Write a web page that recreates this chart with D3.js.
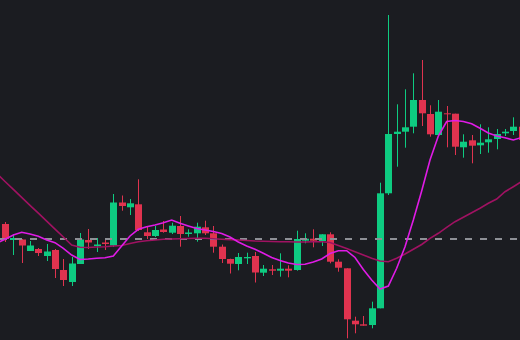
<!DOCTYPE html>
<html>
<head>
<meta charset="utf-8">
<script src="https://cdn.jsdelivr.net/npm/d3@7"></script>
<style>
  html, body { margin: 0; padding: 0; background: #1b1c21; overflow: hidden; }
</style>
</head>
<body>
<div id="chart"></div>
<script>
const width = 520;
const height = 340;

// candles (index 0..62)
const opens = [11.16, 11.00, 11.005, 10.89, 10.91, 10.84, 10.90, 10.70, 10.58, 10.76,
  11.00, 10.94, 10.975, 10.945, 11.375, 11.327, 11.357, 11.077, 11.04, 11.105,
  11.073, 11.14, 11.06, 11.067, 11.127, 11.067, 10.933, 10.81, 10.76, 10.817,
  10.84, 10.673, 10.707, 10.693, 10.713, 10.70, 10.993, 11.013, 10.99, 11.057,
  10.783, 10.717, 10.193, 10.157, 10.15, 10.317, 11.467, 12.06, 12.083, 12.133,
  12.40, 12.26, 12.05, 12.267, 12.263, 11.927, 11.997, 11.947, 11.977, 12.01,
  12.067, 12.09, 12.133];
const highs = [11.18, 11.06, 11.01, 10.99, 10.92, 10.96, 10.91, 10.81, 10.83, 11.07,
  11.11, 11.02, 11.00, 11.46, 11.445, 11.41, 11.607, 11.14, 11.14, 11.19,
  11.173, 11.24, 11.107, 11.173, 11.193, 11.14, 10.955, 10.813, 10.87, 10.873,
  10.88, 10.75, 10.75, 10.867, 10.747, 11.093, 11.067, 11.107, 11.057, 11.077,
  10.807, 10.717, 10.233, 10.24, 10.383, 11.573, 13.25, 12.357, 12.507, 12.667,
  12.80, 12.347, 12.40, 12.34, 12.263, 12.057, 12.05, 12.157, 12.127, 12.11,
  12.11, 12.227, 12.16];
const lows = [10.98, 10.85, 10.77, 10.89, 10.84, 10.79, 10.62, 10.54, 10.54, 10.76,
  10.91, 10.88, 10.90, 10.93, 11.293, 11.25, 11.09, 11.01, 11.03, 11.073,
  11.06, 10.933, 11.033, 10.983, 11.05, 10.873, 10.77, 10.665, 10.697, 10.76,
  10.575, 10.64, 10.65, 10.633, 10.627, 10.693, 10.967, 10.927, 10.94, 10.767,
  10.683, 10.017, 10.067, 10.143, 10.117, 10.317, 11.45, 11.733, 11.923, 12.067,
  12.14, 12.033, 12.05, 11.927, 11.85, 11.823, 11.767, 11.86, 11.873, 11.907,
  12.04, 12.05, 11.98];
const closes = [11.01, 11.02, 10.945, 10.945, 10.87, 10.885, 10.71, 10.60, 10.765, 11.005,
  10.975, 10.955, 10.96, 11.375, 11.34, 11.367, 11.10, 11.04, 11.10, 11.08,
  11.143, 11.06, 11.075, 11.133, 11.067, 10.933, 10.81, 10.763, 10.83, 10.83,
  10.675, 10.713, 10.693, 10.713, 10.693, 11.01, 11.013, 10.993, 11.057, 10.783,
  10.723, 10.207, 10.157, 10.143, 10.317, 11.467, 12.06, 12.083, 12.127, 12.40,
  12.267, 12.057, 12.283, 12.257, 11.933, 11.983, 11.943, 11.973, 12.007, 12.06,
  12.083, 12.133, 12.00];

// moving averages (index -1..62)
const maFast = [10.97, 11.007, 11.05, 11.077, 11.06, 11.037, 11.00, 10.973, 10.917, 10.85, 10.805,
  10.81, 10.817, 10.823, 10.84, 10.94, 11.04, 11.107, 11.133, 11.15, 11.173,
  11.20, 11.167, 11.14, 11.115, 11.10, 11.085, 11.065, 11.03, 10.98, 10.94,
  10.907, 10.867, 10.825, 10.795, 10.77, 10.755, 10.757, 10.78, 10.81, 10.865,
  10.893, 10.893, 10.825, 10.705, 10.60, 10.51, 10.54, 10.717, 10.933, 11.20,
  11.49, 11.80, 12.04, 12.185, 12.195, 12.185, 12.163, 12.117, 12.07, 12.04,
  12.022, 12.00, 12.025];
const maSlow = [11.665, 11.585, 11.506, 11.426, 11.347, 11.268, 11.188, 11.109, 11.03, 10.95, 10.927,
  10.925, 10.93, 10.933, 10.94, 10.945, 10.965, 10.983, 10.992, 11.00, 11.007,
  11.01, 11.012, 11.015, 11.017, 11.017, 11.013, 11.008, 11.004, 11.00, 10.995,
  10.99, 10.988, 10.985, 10.983, 10.982, 10.98, 10.98, 10.982, 10.983, 10.975,
  10.945, 10.915, 10.883, 10.85, 10.817, 10.79, 10.783, 10.817, 10.86, 10.907,
  10.955, 11.017, 11.067, 11.127, 11.183, 11.227, 11.273, 11.317, 11.367, 11.41,
  11.483, 11.533, 11.585];

const refPrice = 11.005;

const candles = opens.map((o, i) => ({ i, o, h: highs[i], l: lows[i], c: closes[i] }));

const up = "#0ecb81";
const down = "#e0334f";

const svg = d3.select("#chart")
  .append("svg")
  .attr("width", width)
  .attr("height", height);

svg.append("rect")
  .attr("width", width)
  .attr("height", height)
  .attr("fill", "#1b1c21");

const x = d3.scaleLinear()
  .domain([-1, 62])
  .range([-3.33, 521.67]);

const y = d3.scaleLinear()
  .domain([10, 13.4])
  .range([height, 0]);

// wicks
svg.selectAll(".wick")
  .data(candles)
  .enter()
  .append("line")
  .attr("class", "wick")
  .attr("x1", d => Math.round(x(d.i)) + 0.5)
  .attr("x2", d => Math.round(x(d.i)) + 0.5)
  .attr("y1", d => y(d.h))
  .attr("y2", d => y(d.l))
  .attr("stroke", d => d.c >= d.o ? up : down)
  .attr("stroke-width", 1);

// bodies
svg.selectAll(".body")
  .data(candles)
  .enter()
  .append("rect")
  .attr("class", "body")
  .attr("x", d => Math.round(x(d.i)) - 3)
  .attr("width", 7)
  .attr("y", d => y(Math.max(d.o, d.c)))
  .attr("height", d => Math.max(1, Math.abs(y(d.o) - y(d.c))))
  .attr("fill", d => d.c >= d.o ? up : down);

// reference price line
svg.append("line")
  .attr("x1", 0)
  .attr("x2", width)
  .attr("y1", Math.round(y(refPrice)))
  .attr("y2", Math.round(y(refPrice)))
  .attr("stroke", "#8e9096")
  .attr("stroke-width", 2)
  .attr("stroke-dasharray", "7 8");

const line = d3.line()
  .x((d, k) => x(k - 1))
  .y(d => y(d));

svg.append("path")
  .datum(maSlow)
  .attr("d", line)
  .attr("fill", "none")
  .attr("stroke", "#a01262")
  .attr("stroke-width", 1.6);

svg.append("path")
  .datum(maFast)
  .attr("d", line)
  .attr("fill", "none")
  .attr("stroke", "#e01be6")
  .attr("stroke-width", 1.6);
</script>
</body>
</html>
